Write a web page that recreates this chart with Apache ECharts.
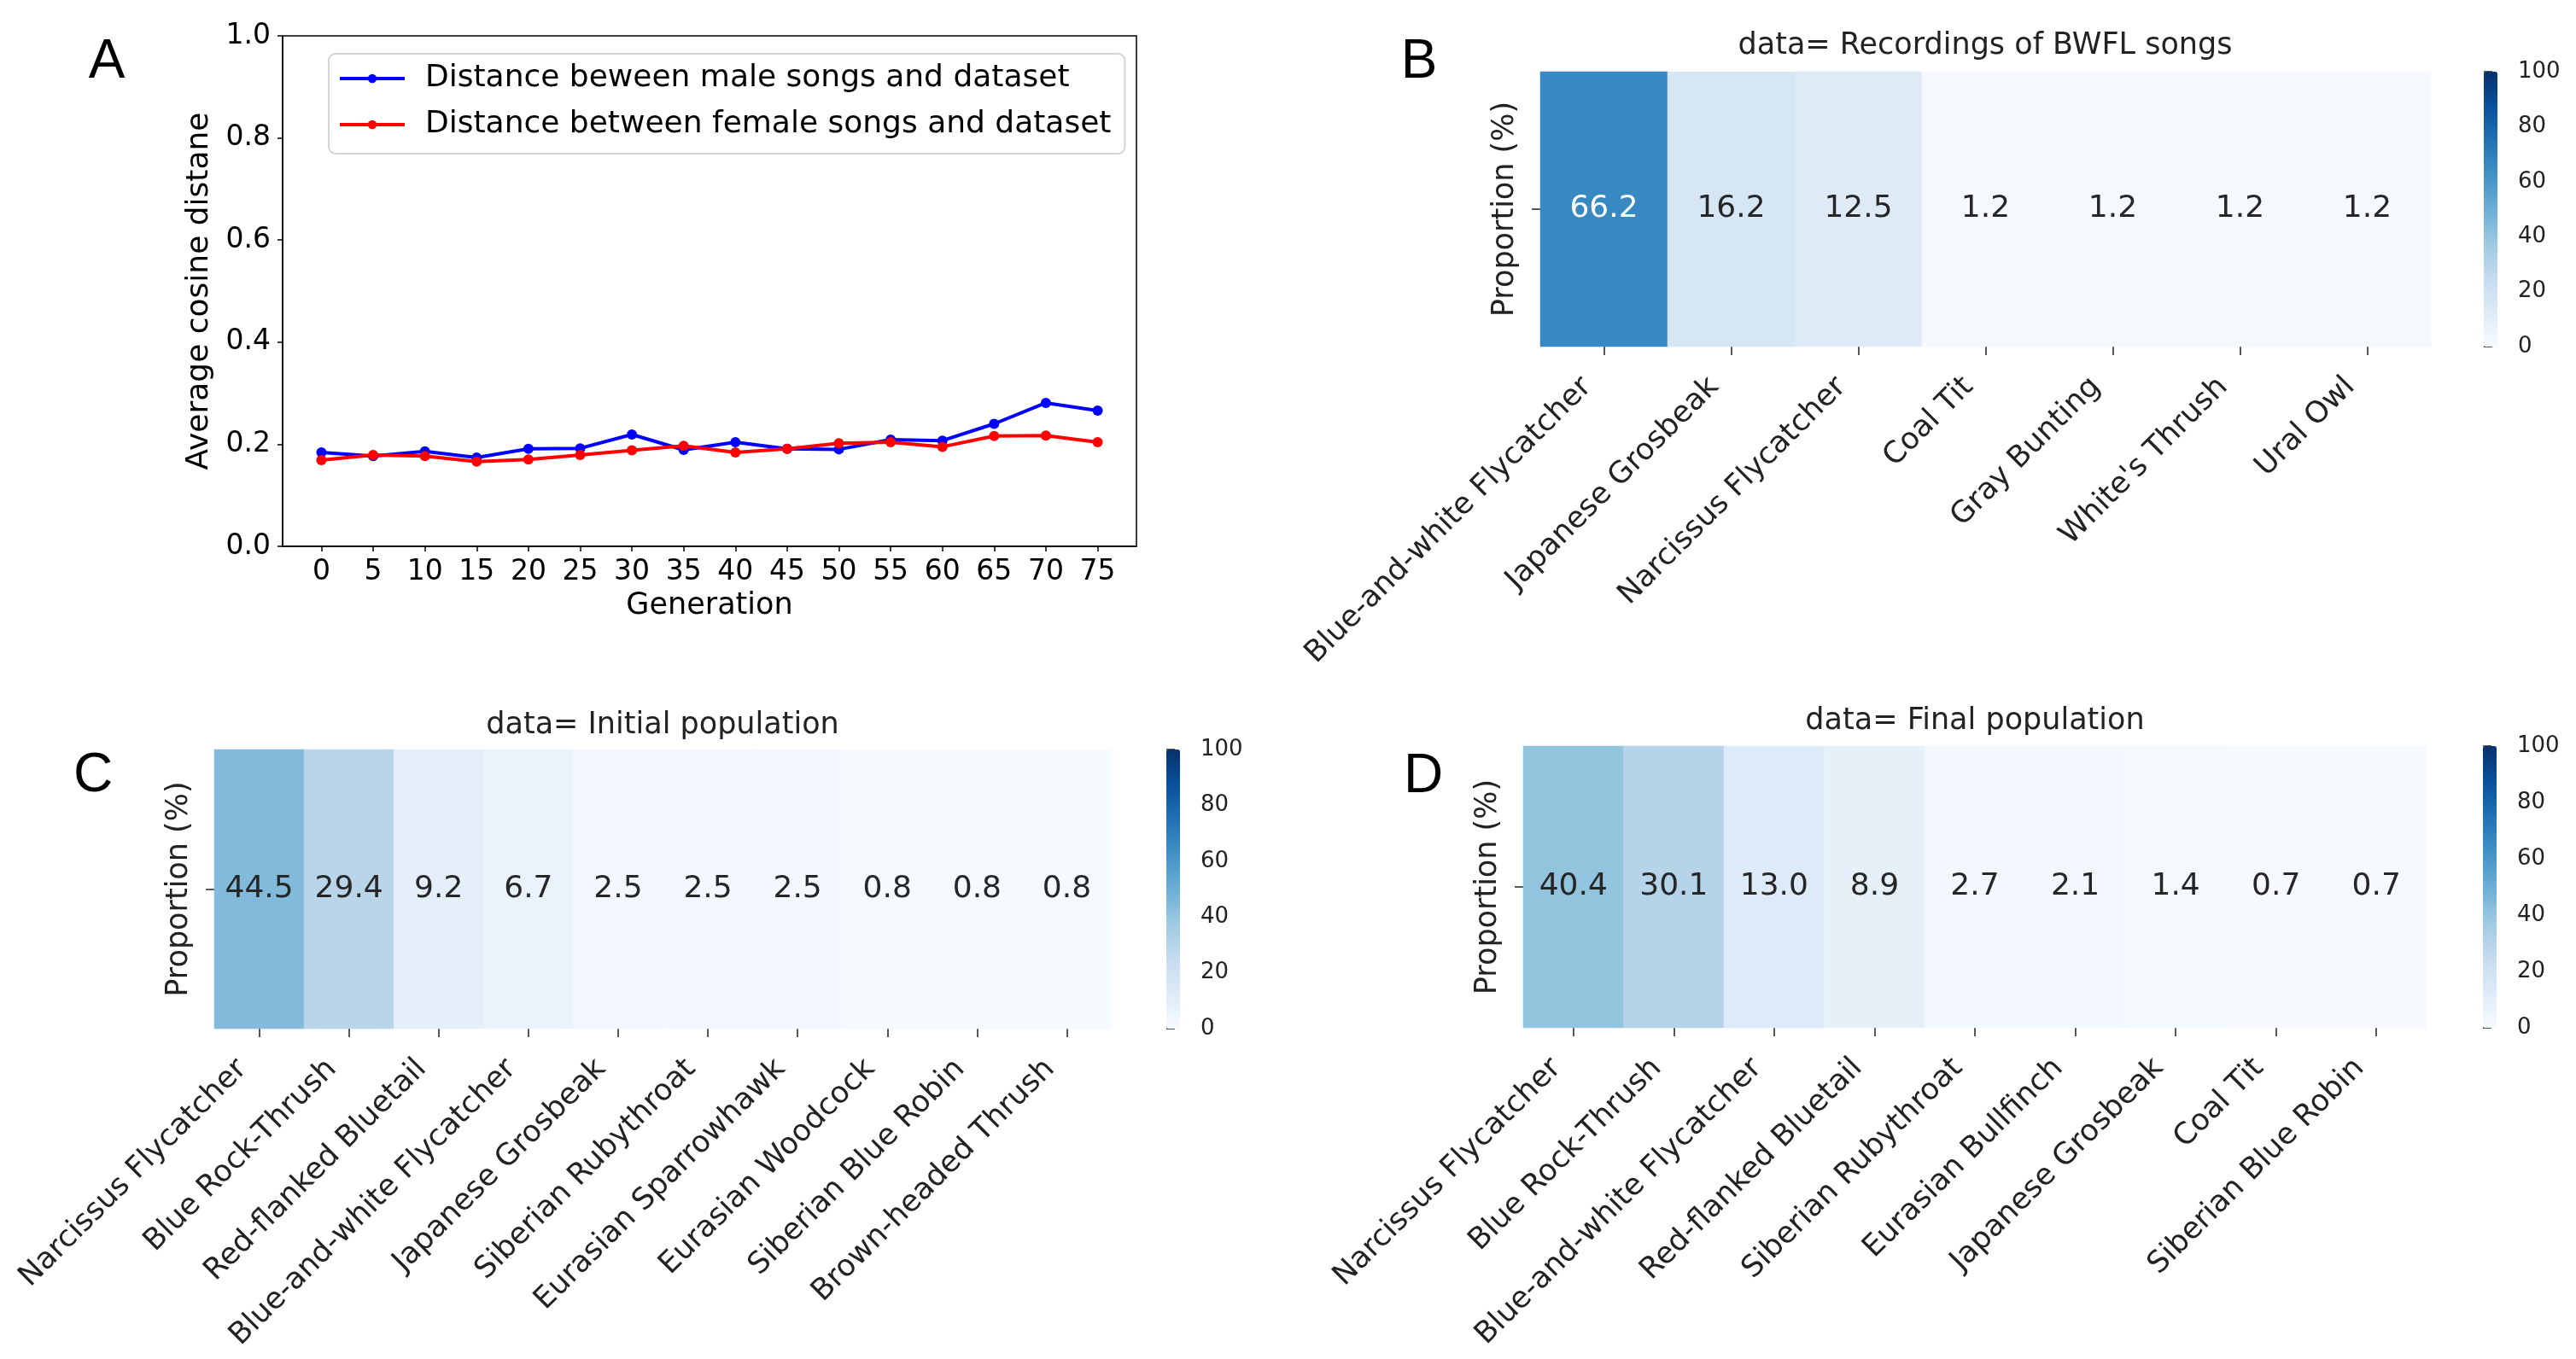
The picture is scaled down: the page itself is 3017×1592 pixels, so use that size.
<!DOCTYPE html>
<html>
<head>
<meta charset="utf-8">
<script src="https://cdn.jsdelivr.net/npm/echarts@6/dist/echarts.min.js"></script>
<style>
html,body{margin:0;padding:0;background:#fff;}
#chart{width:3017px;height:1592px;}
</style>
</head>
<body>
<div id="chart"></div>
<script>
// ---------- Panel A data ----------
const generations = [0,5,10,15,20,25,30,35,40,45,50,55,60,65,70,75];
const maleDistance = [0.184,0.177,0.186,0.174,0.191,0.192,0.219,0.189,0.204,0.191,0.190,0.209,0.207,0.240,0.281,0.266];
const femaleDistance = [0.169,0.179,0.177,0.166,0.170,0.179,0.188,0.197,0.184,0.191,0.202,0.204,0.195,0.216,0.217,0.204];
const yTicksA = [0,0.2,0.4,0.6,0.8,1.0];

// ---------- Panel B data ----------
const speciesB = ['Blue-and-white Flycatcher','Japanese Grosbeak','Narcissus Flycatcher','Coal Tit','Gray Bunting',"White's Thrush",'Ural Owl'];
const valuesB = [66.2,16.2,12.5,1.2,1.2,1.2,1.2];

// ---------- Panel C data ----------
const speciesC = ['Narcissus Flycatcher','Blue Rock-Thrush','Red-flanked Bluetail','Blue-and-white Flycatcher','Japanese Grosbeak','Siberian Rubythroat','Eurasian Sparrowhawk','Eurasian Woodcock','Siberian Blue Robin','Brown-headed Thrush'];
const valuesC = [44.5,29.4,9.2,6.7,2.5,2.5,2.5,0.8,0.8,0.8];

// ---------- Panel D data ----------
const speciesD = ['Narcissus Flycatcher','Blue Rock-Thrush','Blue-and-white Flycatcher','Red-flanked Bluetail','Siberian Rubythroat','Eurasian Bullfinch','Japanese Grosbeak','Coal Tit','Siberian Blue Robin'];
const valuesD = [40.4,30.1,13.0,8.9,2.7,2.1,1.4,0.7,0.7];

const colorbarTicks = [0,20,40,60,80,100];

// ---------- styling ----------
const FONT = 'DejaVu Sans';
const BLUES = ['#f7fbff','#deebf7','#c6dbef','#9ecae1','#6baed6','#4292c6','#2171b5','#08519c','#08306b'];
const TXT = '#222';

const chart = echarts.init(document.getElementById('chart'), null, {renderer:'canvas'});

function heatData(vals){
  return vals.map((v,i)=>({
    value:[i,0,v],
    label:{color: v > 60 ? '#ffffff' : '#262626'}
  }));
}

// layout boxes (pixels)
const boxA = {left:331, top:42, width:1000, height:598};
const boxB = {left:1804, top:84, width:1043, height:322};
const boxC = {left:251, top:878, width:1051, height:327};
const boxD = {left:1784, top:874, width:1058, height:330};
const cbB = {left:2909, top:84, width:16, height:322};
const cbC = {left:1366, top:878, width:16, height:327};
const cbD = {left:2908, top:874, width:16, height:330};

function heatXAxis(grid, cats){
  return {
    type:'category', gridIndex:grid, data:cats,
    axisLine:{show:false},
    axisTick:{show:true, alignWithLabel:true, length:10, lineStyle:{color:TXT, width:1.5}},
    axisLabel:{rotate:45, interval:0, fontFamily:FONT, fontSize:35, color:TXT, margin:22, padding:[0,28,0,0]},
    splitLine:{show:false}
  };
}
function heatYAxis(grid){
  return {
    type:'category', gridIndex:grid, data:[''],
    axisLine:{show:false},
    axisTick:{show:true, alignWithLabel:true, length:10, lineStyle:{color:TXT, width:1.5}},
    axisLabel:{show:false},
    name:'Proportion (%)', nameLocation:'middle', nameRotate:90, nameGap:24,
    nameTextStyle:{fontFamily:FONT, fontSize:35, color:TXT},
    splitLine:{show:false}
  };
}
function cbYAxis(grid){
  return {
    type:'value', gridIndex:grid, min:0, max:100, interval:20, position:'right',
    axisLine:{show:false},
    axisTick:{show:true, length:10, lineStyle:{color:TXT, width:1.5}},
    axisLabel:{fontFamily:FONT, fontSize:26, color:TXT, margin:24},
    splitLine:{show:false}
  };
}
function cbXAxis(grid){
  return {type:'value', gridIndex:grid, show:false, min:0, max:1};
}
function heatSeries(grid, vals){
  return {
    type:'heatmap', xAxisIndex:grid, yAxisIndex:grid,
    data:heatData(vals),
    label:{show:true, fontFamily:FONT, fontSize:36, formatter:p=>p.value[2].toFixed(1)},
    itemStyle:{borderWidth:0},
    emphasis:{disabled:true}
  };
}
function vmap(series, cb){
  return {
    type:'continuous', min:0, max:100, seriesIndex:series, calculable:false,
    left:cb.left, top:cb.top, itemWidth:cb.width, itemHeight:cb.height,
    padding:0, text:null, inRange:{color:BLUES}, hoverLink:false
  };
}

const option = {
  backgroundColor:'#ffffff',
  animation:false,
  textStyle:{fontFamily:FONT},
  grid:[
    Object.assign({show:true, borderColor:'#000', borderWidth:1.5, backgroundColor:'transparent'}, boxA),
    boxB, boxC, boxD, cbB, cbC, cbD
  ],
  legend:{
    orient:'vertical', left:385, top:63,
    data:['Distance beween male songs and dataset','Distance between female songs and dataset'],
    itemWidth:76, itemHeight:13, itemGap:14,
    padding:[9,16,14,11],
    backgroundColor:'#ffffff', borderColor:'#d4d4d4', borderWidth:2, borderRadius:8,
    lineStyle:{width:4},
    textStyle:{fontFamily:FONT, fontSize:36, color:'#000', lineHeight:40, padding:[0,0,0,19]}
  },
  xAxis:[
    {
      type:'value', gridIndex:0, min:-3.75, max:78.75,
      axisLine:{show:true, onZero:false, lineStyle:{color:'#000', width:1.5}},
      axisTick:{show:true, length:6, customValues:generations, lineStyle:{color:'#000', width:1.5}},
      axisLabel:{customValues:generations, fontFamily:FONT, fontSize:33, color:'#000', margin:14},
      splitLine:{show:false},
      name:'Generation', nameLocation:'middle', nameGap:52,
      nameTextStyle:{fontFamily:FONT, fontSize:35, color:'#000'}
    },
    heatXAxis(1, speciesB), heatXAxis(2, speciesC), heatXAxis(3, speciesD),
    cbXAxis(4), cbXAxis(5), cbXAxis(6)
  ],
  yAxis:[
    {
      type:'value', gridIndex:0, min:0, max:1, interval:0.2,
      axisLine:{show:true, onZero:false, lineStyle:{color:'#000', width:1.5}},
      axisTick:{show:true, length:6, lineStyle:{color:'#000', width:1.5}},
      axisLabel:{fontFamily:FONT, fontSize:33, color:'#000', margin:14, formatter:v=>v.toFixed(1)},
      splitLine:{show:false},
      name:'Average cosine distane', nameLocation:'middle', nameRotate:90, nameGap:79,
      nameTextStyle:{fontFamily:FONT, fontSize:36, color:'#000'}
    },
    heatYAxis(1), heatYAxis(2), heatYAxis(3),
    cbYAxis(4), cbYAxis(5), cbYAxis(6)
  ],
  visualMap:[ vmap(2, cbB), vmap(3, cbC), vmap(4, cbD) ],
  series:[
    {
      name:'Distance beween male songs and dataset', type:'line', xAxisIndex:0, yAxisIndex:0,
      data:generations.map((g,i)=>[g, maleDistance[i]]),
      symbol:'circle', symbolSize:12, color:'#0000ff',
      lineStyle:{width:4, color:'#0000ff'}, itemStyle:{color:'#0000ff'}
    },
    {
      name:'Distance between female songs and dataset', type:'line', xAxisIndex:0, yAxisIndex:0,
      data:generations.map((g,i)=>[g, femaleDistance[i]]),
      symbol:'circle', symbolSize:12, color:'#ff0000',
      lineStyle:{width:4, color:'#ff0000'}, itemStyle:{color:'#ff0000'}
    },
    heatSeries(1, valuesB), heatSeries(2, valuesC), heatSeries(3, valuesD)
  ],
  graphic:[
    {type:'text', x:125, y:73, style:{text:'A', fontFamily:'Liberation Sans', fontSize:64, fill:'#000', textAlign:'center', textVerticalAlign:'middle'}},
    {type:'text', x:1662, y:73, style:{text:'B', fontFamily:'Liberation Sans', fontSize:64, fill:'#000', textAlign:'center', textVerticalAlign:'middle'}},
    {type:'text', x:109, y:909, style:{text:'C', fontFamily:'Liberation Sans', fontSize:64, fill:'#000', textAlign:'center', textVerticalAlign:'middle'}},
    {type:'text', x:1667, y:910, style:{text:'D', fontFamily:'Liberation Sans', fontSize:64, fill:'#000', textAlign:'center', textVerticalAlign:'middle'}},
    {type:'text', x:2325, y:54, style:{text:'data= Recordings of BWFL songs', fontFamily:FONT, fontSize:35, fill:TXT, textAlign:'center', textVerticalAlign:'middle'}},
    {type:'text', x:776, y:850, style:{text:'data= Initial population', fontFamily:FONT, fontSize:35, fill:TXT, textAlign:'center', textVerticalAlign:'middle'}},
    {type:'text', x:2313, y:845, style:{text:'data= Final population', fontFamily:FONT, fontSize:35, fill:TXT, textAlign:'center', textVerticalAlign:'middle'}}
  ]
};
chart.setOption(option);
</script>
</body>
</html>
